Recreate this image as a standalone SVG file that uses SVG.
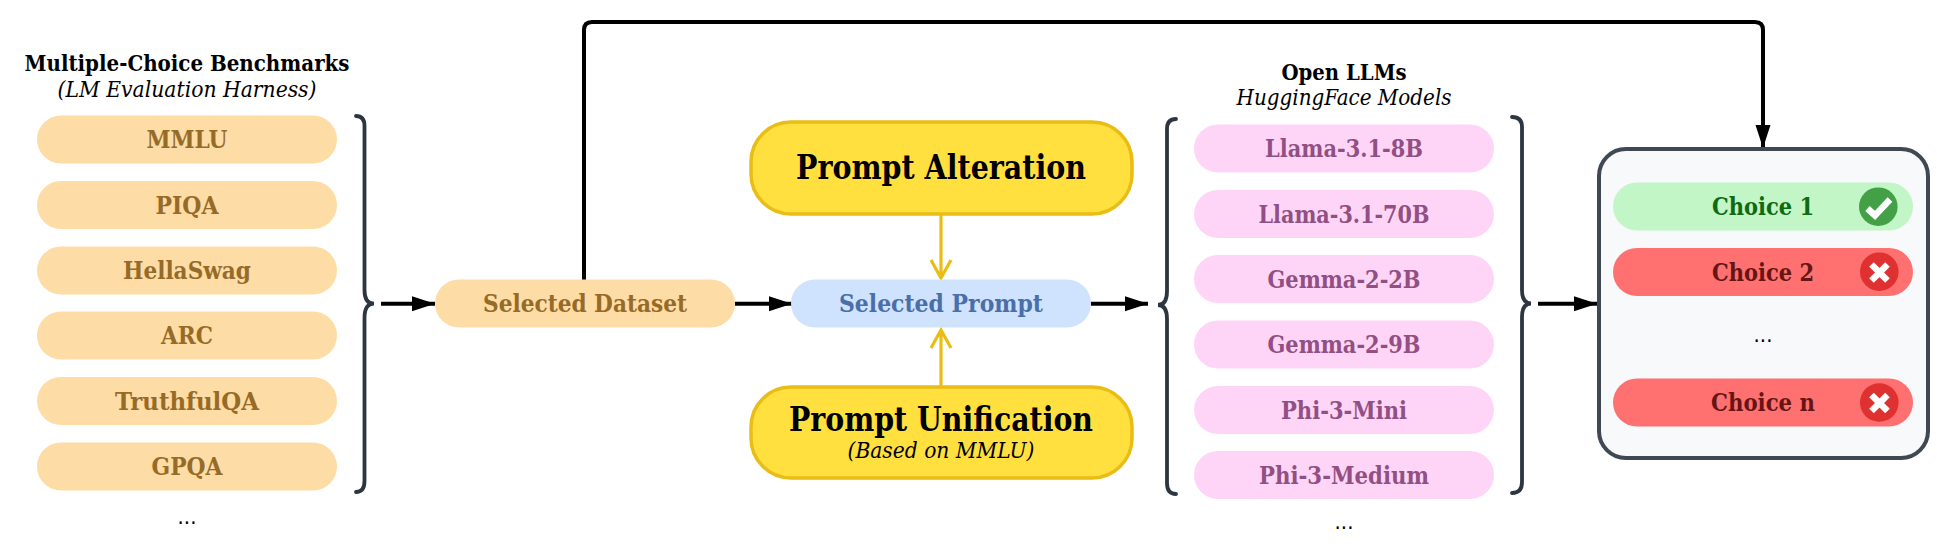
<svg xmlns="http://www.w3.org/2000/svg" width="1953" height="553" viewBox="0 0 1953 553">
<defs>
<style>
text{font-family:"DejaVu Serif","Liberation Serif",serif;text-anchor:middle;font-stretch:condensed;}
.h{font-weight:700;font-size:22px;fill:#000}
.i{font-style:italic;font-size:22px;fill:#000}
.p{font-weight:700;font-size:25px}
.o rect{fill:#fedca6}.o text{fill:#966b28}
.k rect{fill:#fed5f6}.k text{fill:#914f83}
.y rect{fill:#ffe03f;stroke:#e9bd15;stroke-width:3.5}
.t{font-weight:700;font-size:34px;fill:#000}
.d{font-size:22px;fill:#000;font-family:"DejaVu Sans",sans-serif}
.br{fill:none;stroke:#2d3540;stroke-width:3.8;stroke-linecap:round}
.a{fill:none;stroke:#000;stroke-width:4}
.a2{fill:none;stroke:#e9bd15;stroke-width:3.2}
.ic{fill:none;stroke:#fff;stroke-width:6.500}
</style>
<marker id="ah" markerUnits="userSpaceOnUse" markerWidth="24" markerHeight="16" refX="23" refY="7.5" orient="auto"><path d="M0 0L23 7.5L0 15Z" fill="#000"/></marker>
</defs>
<g id="connectors">
<path class="a" d="M381 303.700H435" marker-end="url(#ah)"/>
<path class="a" d="M735 303.700H792" marker-end="url(#ah)"/>
<path class="a" d="M1091 303.700H1148" marker-end="url(#ah)"/>
<path class="a" d="M1538 303.700H1597" marker-end="url(#ah)"/>
<path class="a" d="M584 280V30Q584 22 592 22H1755Q1763 22 1763 30V148" marker-end="url(#ah)"/>
<path class="a2" d="M941 214V278M931 260L941 278L951 260"/>
<path class="a2" d="M941 387V330M931 348L941 330L951 348"/>
</g>
<g id="braces">
<path class="br" d="M356 116Q364.500 116 364.500 126V290Q364.500 303.700 374 303.700Q364.500 303.700 364.500 318V481Q364.500 492 356 492"/>
<path class="br" d="M1176 119Q1167 119 1167 129V291Q1167 305 1158 305Q1167 305 1167 319V483Q1167 494 1176 494"/>
<path class="br" d="M1512 117Q1522 117 1522 127V290Q1522 303.500 1531 303.500Q1522 303.500 1522 317V482Q1522 493 1512 493"/>
</g>
<g id="benchmarks-title"><text class="h" x="187" y="71" textLength="325" lengthAdjust="spacingAndGlyphs">Multiple-Choice Benchmarks</text><text class="i" x="187" y="97" textLength="259" lengthAdjust="spacingAndGlyphs">(LM Evaluation Harness)</text></g>
<g id="mmlu" class="o"><rect x="37" y="115.500" width="300" height="48" rx="24"/><text class="p" x="187" y="148" textLength="81" lengthAdjust="spacingAndGlyphs">MMLU</text></g>
<g id="piqa" class="o"><rect x="37" y="181" width="300" height="48" rx="24"/><text class="p" x="187" y="213.500" textLength="63" lengthAdjust="spacingAndGlyphs">PIQA</text></g>
<g id="hellaswag" class="o"><rect x="37" y="246.500" width="300" height="48" rx="24"/><text class="p" x="187" y="279" textLength="128" lengthAdjust="spacingAndGlyphs">HellaSwag</text></g>
<g id="arc" class="o"><rect x="37" y="311.500" width="300" height="48" rx="24"/><text class="p" x="187" y="344" textLength="52" lengthAdjust="spacingAndGlyphs">ARC</text></g>
<g id="truthfulqa" class="o"><rect x="37" y="377" width="300" height="48" rx="24"/><text class="p" x="187" y="409.500" textLength="144" lengthAdjust="spacingAndGlyphs">TruthfulQA</text></g>
<g id="gpqa" class="o"><rect x="37" y="442.500" width="300" height="48" rx="24"/><text class="p" x="187" y="475" textLength="71" lengthAdjust="spacingAndGlyphs">GPQA</text></g>
<text class="d" x="187" y="524">...</text>
<g id="selected-dataset" class="o"><rect x="435" y="279.500" width="300" height="48" rx="24"/><text class="p" x="585" y="312" textLength="204" lengthAdjust="spacingAndGlyphs">Selected Dataset</text></g>
<g id="selected-prompt"><rect x="791" y="279.500" width="300" height="48" rx="24" fill="#cfe2fe"/><text class="p" x="941" y="312" textLength="204" lengthAdjust="spacingAndGlyphs" fill="#4a6fa8">Selected Prompt</text></g>
<g id="prompt-alteration" class="y"><rect x="751" y="122" width="381" height="92" rx="40"/><text class="t" x="941" y="179" textLength="290" lengthAdjust="spacingAndGlyphs">Prompt Alteration</text></g>
<g id="prompt-unification" class="y"><rect x="751" y="387" width="381" height="91" rx="40"/><text class="t" x="941" y="431" textLength="304" lengthAdjust="spacingAndGlyphs">Prompt Unification</text><text class="i" x="941" y="458" textLength="187" lengthAdjust="spacingAndGlyphs">(Based on MMLU)</text></g>
<g id="llms-title"><text class="h" x="1344" y="80" textLength="125" lengthAdjust="spacingAndGlyphs">Open LLMs</text><text class="i" x="1344" y="105" textLength="215" lengthAdjust="spacingAndGlyphs">HuggingFace Models</text></g>
<g id="llama8" class="k"><rect x="1194" y="124.500" width="300" height="48" rx="24"/><text class="p" x="1344" y="157" textLength="158" lengthAdjust="spacingAndGlyphs">Llama-3.1-8B</text></g>
<g id="llama70" class="k"><rect x="1194" y="190" width="300" height="48" rx="24"/><text class="p" x="1344" y="222.500" textLength="171" lengthAdjust="spacingAndGlyphs">Llama-3.1-70B</text></g>
<g id="gemma2" class="k"><rect x="1194" y="255" width="300" height="48" rx="24"/><text class="p" x="1344" y="287.500" textLength="153" lengthAdjust="spacingAndGlyphs">Gemma-2-2B</text></g>
<g id="gemma9" class="k"><rect x="1194" y="320.500" width="300" height="48" rx="24"/><text class="p" x="1344" y="353" textLength="153" lengthAdjust="spacingAndGlyphs">Gemma-2-9B</text></g>
<g id="phimini" class="k"><rect x="1194" y="386" width="300" height="48" rx="24"/><text class="p" x="1344" y="418.500" textLength="126" lengthAdjust="spacingAndGlyphs">Phi-3-Mini</text></g>
<g id="phimedium" class="k"><rect x="1194" y="451" width="300" height="48" rx="24"/><text class="p" x="1344" y="483.500" textLength="170" lengthAdjust="spacingAndGlyphs">Phi-3-Medium</text></g>
<text class="d" x="1344" y="529">...</text>
<g id="choices-box"><rect x="1599" y="149" width="329" height="309" rx="27" fill="#f7f9fb" stroke="#3f4853" stroke-width="4"/></g>
<g id="choice1"><rect x="1613" y="182.500" width="300" height="48" rx="24" fill="#c2f6c6"/><text class="p" x="1763" y="215" textLength="102" lengthAdjust="spacingAndGlyphs" fill="#0d6b12">Choice 1</text><circle cx="1878.300" cy="206.700" r="19.300" fill="#43a047"/><path class="ic" d="M1867.500 208.500L1875 215.500L1890 199.500"/></g>
<g id="choice2"><rect x="1613" y="248" width="300" height="48" rx="24" fill="#ff7070"/><text class="p" x="1763" y="280.500" textLength="102" lengthAdjust="spacingAndGlyphs" fill="#651515">Choice 2</text><circle cx="1879.300" cy="271.700" r="19.300" fill="#e03131"/><path class="ic" d="M1871.500 264.500L1887.500 280.500M1887.500 264.500L1871.500 280.500"/></g>
<text class="d" x="1763" y="342">...</text>
<g id="choicen"><rect x="1613" y="378.500" width="300" height="48" rx="24" fill="#ff7070"/><text class="p" x="1763" y="411" textLength="104" lengthAdjust="spacingAndGlyphs" fill="#651515">Choice n</text><circle cx="1879.300" cy="402.500" r="19.300" fill="#e03131"/><path class="ic" d="M1871.500 395L1887.500 411M1887.500 395L1871.500 411"/></g>
</svg>
